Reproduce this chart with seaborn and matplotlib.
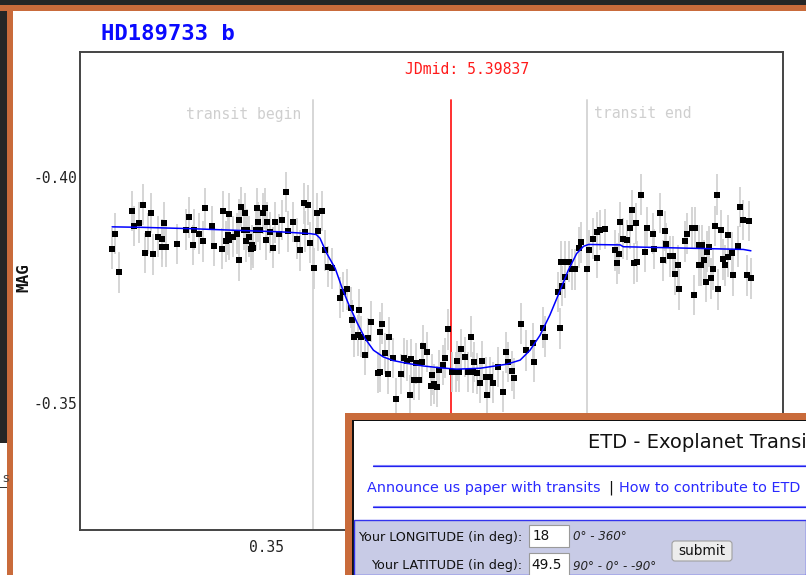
import numpy as np
import pandas as pd
import matplotlib
matplotlib.use("Agg")
import matplotlib.pyplot as plt
from matplotlib.patches import Rectangle, FancyBboxPatch
from matplotlib.ticker import FixedLocator, FormatStrFormatter
import seaborn as sns

# ---------------- data ----------------
TITLE = "HD189733 b"
JD_MID = 0.39837
JD_MID_LABEL = "JDmid: 5.39837"
T_BEGIN = 0.3623
T_END = 0.4340
ERR = 0.0045
X_TICKS = [0.35, 0.40, 0.45]
Y_TICKS = [-0.40, -0.35]

OBS_TIME = [0.3098, 0.3105, 0.3116, 0.3150, 0.3155, 0.3168, 0.3179, 0.3184, 0.3192, 0.3199,
            0.3203, 0.3218, 0.3227, 0.3227, 0.3234, 0.3238, 0.3266, 0.3290, 0.3297, 0.3308,
            0.3312, 0.3324, 0.3336, 0.3340, 0.3359, 0.3363, 0.3384, 0.3387, 0.3395, 0.3400,
            0.3403, 0.3404, 0.3414, 0.3423, 0.3430, 0.3430, 0.3435, 0.3441, 0.3445, 0.3448,
            0.3451, 0.3455, 0.3460, 0.3464, 0.3467, 0.3473, 0.3476, 0.3480, 0.3484, 0.3491,
            0.3497, 0.3500, 0.3503, 0.3510, 0.3519, 0.3524, 0.3535, 0.3542, 0.3551, 0.3558,
            0.3571, 0.3580, 0.3589, 0.3598, 0.3603, 0.3611, 0.3615, 0.3626, 0.3633, 0.3635,
            0.3646, 0.3654, 0.3663, 0.3672, 0.3694, 0.3702, 0.3711, 0.3722, 0.3726, 0.3730,
            0.3740, 0.3743, 0.3749, 0.3759, 0.3768, 0.3774, 0.3794, 0.3797, 0.3798, 0.3803,
            0.3810, 0.3818, 0.3821, 0.3833, 0.3841, 0.3853, 0.3861, 0.3868, 0.3876, 0.3880,
            0.3887, 0.3893, 0.3900, 0.3907, 0.3912, 0.3921, 0.3931, 0.3934, 0.3940, 0.3947,
            0.3952, 0.3963, 0.3968, 0.3976, 0.3986, 0.3996, 0.4001, 0.4006, 0.4011, 0.4021,
            0.4028, 0.4037, 0.4041, 0.4045, 0.4052, 0.4060, 0.4065, 0.4076, 0.4079, 0.4086,
            0.4095, 0.4108, 0.4120, 0.4127, 0.4134, 0.4143, 0.4150, 0.4167, 0.4181, 0.4198,
            0.4202, 0.4226, 0.4230, 0.4264, 0.4270, 0.4273, 0.4274, 0.4283, 0.4283, 0.4294,
            0.4300, 0.4309, 0.4318, 0.4325, 0.4340, 0.4346, 0.4357, 0.4366, 0.4366, 0.4374,
            0.4387, 0.4414, 0.4418, 0.4425, 0.4427, 0.4435, 0.4444, 0.4453, 0.4459, 0.4463,
            0.4469, 0.4472, 0.4481, 0.4492, 0.4497, 0.4512, 0.4516, 0.4531, 0.4538, 0.4545,
            0.4547, 0.4558, 0.4565, 0.4571, 0.4578, 0.4582, 0.4597, 0.4601, 0.4614, 0.4620,
            0.4623, 0.4632, 0.4632, 0.4638, 0.4641, 0.4647, 0.4652, 0.4654, 0.4660, 0.4665,
            0.4671, 0.4675, 0.4680, 0.4684, 0.4690, 0.4696, 0.4702, 0.4708, 0.4710, 0.4719,
            0.4723, 0.4734, 0.4741, 0.4749, 0.4758, 0.4765, 0.4769]

OBS_MAG = [-0.3842, -0.3875, -0.3789, -0.3925, -0.3892, -0.3899, -0.3939, -0.3832, -0.3875, -0.3921,
           -0.3829, -0.3868, -0.3863, -0.3846, -0.3899, -0.3846, -0.3852, -0.3884, -0.3911, -0.3850,
           -0.3884, -0.3875, -0.3858, -0.3931, -0.3892, -0.3848, -0.3842, -0.3925, -0.3858, -0.3872,
           -0.3919, -0.3861, -0.3868, -0.3875, -0.3816, -0.3906, -0.3934, -0.3884, -0.3921, -0.3858,
           -0.3884, -0.3868, -0.3840, -0.3850, -0.3844, -0.3884, -0.3931, -0.3901, -0.3884, -0.3920,
           -0.3931, -0.3861, -0.3901, -0.3878, -0.3844, -0.3900, -0.3874, -0.3905, -0.3967, -0.3880,
           -0.3901, -0.3864, -0.3838, -0.3942, -0.3879, -0.3938, -0.3855, -0.3798, -0.3920, -0.3881,
           -0.3925, -0.3838, -0.3802, -0.3798, -0.3733, -0.3746, -0.3752, -0.3711, -0.3684, -0.3647,
           -0.3650, -0.3707, -0.3647, -0.3606, -0.3644, -0.3680, -0.3567, -0.3657, -0.3569, -0.3676,
           -0.3610, -0.3564, -0.3646, -0.3600, -0.3510, -0.3564, -0.3600, -0.3594, -0.3518, -0.3597,
           -0.3551, -0.3588, -0.3551, -0.3590, -0.3627, -0.3613, -0.3538, -0.3563, -0.3542, -0.3536,
           -0.3573, -0.3584, -0.3600, -0.3663, -0.3569, -0.3569, -0.3593, -0.3569, -0.3619, -0.3602,
           -0.3569, -0.3647, -0.3568, -0.3591, -0.3566, -0.3545, -0.3593, -0.3557, -0.3518, -0.3557,
           -0.3545, -0.3580, -0.3525, -0.3612, -0.3591, -0.3571, -0.3555, -0.3676, -0.3617, -0.3633,
           -0.3591, -0.3667, -0.3647, -0.3746, -0.3665, -0.3813, -0.3759, -0.3778, -0.3813, -0.3813,
           -0.3796, -0.3796, -0.3844, -0.3856, -0.3796, -0.3838, -0.3864, -0.3878, -0.3822, -0.3883,
           -0.3885, -0.3838, -0.3809, -0.3831, -0.3901, -0.3864, -0.3861, -0.3887, -0.3927, -0.3809,
           -0.3898, -0.3813, -0.3961, -0.3835, -0.3888, -0.3875, -0.3841, -0.3921, -0.3816, -0.3881,
           -0.3853, -0.3825, -0.3825, -0.3785, -0.3805, -0.3752, -0.3858, -0.3875, -0.3888, -0.3739,
           -0.3888, -0.3805, -0.3850, -0.3805, -0.3850, -0.3816, -0.3768, -0.3835, -0.3846, -0.3776,
           -0.3796, -0.3892, -0.3961, -0.3752, -0.3883, -0.3818, -0.3805, -0.3871, -0.3824, -0.3833,
           -0.3783, -0.3847, -0.3934, -0.3905, -0.3783, -0.3903, -0.3776]

MODEL_TIME = [0.3097, 0.3170, 0.3301, 0.3432, 0.3537, 0.3615, 0.3631, 0.3641, 0.3659, 0.3681,
              0.3698, 0.3715, 0.3737, 0.3759, 0.3781, 0.3807, 0.3833, 0.3868, 0.3912, 0.3955,
              0.3999, 0.4060, 0.4130, 0.4165, 0.4191, 0.4217, 0.4243, 0.4270, 0.4291, 0.4313,
              0.4331, 0.4344, 0.4427, 0.4435, 0.4540, 0.4645, 0.4749, 0.4769]
MODEL_MAG = [-0.3890, -0.3889, -0.3886, -0.3882, -0.3879, -0.3875, -0.3873, -0.3865, -0.3831, -0.3798,
             -0.3757, -0.3721, -0.3680, -0.3643, -0.3617, -0.3602, -0.3594, -0.3588, -0.3582, -0.3578,
             -0.3575, -0.3577, -0.3586, -0.3595, -0.3617, -0.3650, -0.3695, -0.3750, -0.3794, -0.3831,
             -0.3847, -0.3851, -0.3850, -0.3846, -0.3844, -0.3842, -0.3840, -0.3837]

# ---------------- style ----------------
sns.set_style("white")
plt.rcParams["font.family"] = ["DejaVu Sans Mono", "DejaVu Sans"]

W, H = 806, 575
fig = plt.figure(figsize=(W / 100, H / 100), dpi=100, facecolor="white")
ax = fig.add_axes([80 / W, 1 - 530 / H, 703 / W, 478 / H])
ax.set_facecolor("white")

obs = pd.DataFrame({"time": OBS_TIME, "mag": OBS_MAG})
obs["lo"] = obs["mag"] - ERR
obs["hi"] = obs["mag"] + ERR
model = pd.DataFrame({"time": MODEL_TIME, "mag": MODEL_MAG})

# transit markers
top = (530 - 100) / 478
ax.axvline(T_BEGIN, ymin=0, ymax=top, color="#d6d6d6", lw=1.4, zorder=1)
ax.axvline(T_END, ymin=0, ymax=top, color="#d6d6d6", lw=1.4, zorder=1)
ax.axvline(JD_MID, ymin=0, ymax=top, color="#ff2020", lw=1.3, zorder=1)

# error bars + points + model
ax.vlines(obs["time"], obs["lo"], obs["hi"], color="#d2d2d2", lw=1.3, zorder=2)
sns.scatterplot(data=obs, x="time", y="mag", marker="s", s=15, color="black",
                linewidth=0, ax=ax, zorder=3, legend=False)
sns.lineplot(data=model, x="time", y="mag", color="#0000ff", lw=1.1, sort=False,
             estimator=None, ax=ax, zorder=4, legend=False)

ax.set_xlim(0.3013, 0.4853)
ax.set_ylim(-0.3219, -0.4277)

ax.xaxis.set_major_locator(FixedLocator(X_TICKS))
ax.yaxis.set_major_locator(FixedLocator(Y_TICKS))
ax.xaxis.set_major_formatter(FormatStrFormatter("%.2f"))
ax.yaxis.set_major_formatter(FormatStrFormatter("%.2f"))
ax.tick_params(direction="in", length=6, width=1.3, color="#333333",
               labelsize=10.5, labelcolor="#222222")
ax.tick_params(axis="y", pad=2)
ax.tick_params(axis="x", pad=7)
for s in ax.spines.values():
    s.set_color("#444444")
    s.set_linewidth(1.4)

ax.set_xlabel("")
ax.set_ylabel("MAG", fontsize=11.5, fontweight="bold", color="#111111")
ax.yaxis.set_label_coords(-0.069, 0.529)

ax.text(0.030, 1.0377, TITLE, transform=ax.transAxes, fontsize=16, fontweight="bold",
        color="#0a0aff", va="center", ha="left")
ax.text((405 - 80) / 703, (530 - 70) / 478, JD_MID_LABEL, transform=ax.transAxes,
        fontsize=10.6, color="#ff1a1a", va="center", ha="left")
ax.text((301 - 80) / 703, (530 - 114) / 478, "transit begin", transform=ax.transAxes,
        fontsize=10.6, color="#cfcfcf", va="center", ha="right")
ax.text((594 - 80) / 703, (530 - 114) / 478, "transit end", transform=ax.transAxes,
        fontsize=10.6, color="#cfcfcf", va="center", ha="left")

# ---------------- screenshot frame and overlay window ----------------
deco = fig.add_axes([0, 0, 1, 1], zorder=10)
deco.set_xlim(0, W)
deco.set_ylim(H, 0)
deco.axis("off")
ORANGE = "#c96b3b"
DARK = "#262626"

def rect(x, y, w, h, fc, ec="none", lw=0, z=1):
    deco.add_patch(Rectangle((x, y), w, h, facecolor=fc, edgecolor=ec, lw=lw, zorder=z))

rect(0, 0, W, 5, DARK)
rect(0, 0, 7, 443, DARK)
rect(0, 5, W, 6, ORANGE)
rect(7, 5, 5.5, H, ORANGE)
rect(0, 486.5, 7, 1, "#333333")
deco.text(2, 478, "s", fontsize=9, color="#444444", family="DejaVu Sans",
          va="center", ha="left", clip_on=True)

# overlay window
rect(345, 413, W - 345, H - 413, ORANGE, z=2)
rect(352, 419.5, W - 352, H - 419.5, "#111111", z=3)
rect(353.5, 421, W - 353.5, H - 421, "white", z=4)
deco.text(588, 443, "ETD - Exoplanet Transit", fontsize=14, color="#111111",
          family="DejaVu Sans", va="center", ha="left", zorder=5, clip_on=True)
for yy in (465.5, 506.5):
    deco.plot([373, W], [yy - 1, yy - 1], color="#8a8aff", lw=0.8, zorder=5)
    deco.plot([373, W], [yy + 0.8, yy + 0.8], color="#2222ee", lw=0.9, zorder=5)
deco.text(367, 488, "Announce us paper with transits", fontsize=10.4, color="#2a2aff",
          family="DejaVu Sans", va="center", ha="left", zorder=5)
deco.text(608, 488, "|", fontsize=10.4, color="#111111", family="DejaVu Sans",
          va="center", ha="left", zorder=5)
deco.text(619, 488, "How to contribute to ETD", fontsize=10.4, color="#2a2aff",
          family="DejaVu Sans", va="center", ha="left", zorder=5)

# form panel
rect(354, 520, W - 354, H - 520, "#c8cbe6", ec="#3333ee", lw=1.0, z=5)
deco.text(358, 537, "Your LONGITUDE (in deg):", fontsize=9.2, color="#111111",
          family="DejaVu Sans", va="center", ha="left", zorder=6)
deco.text(371, 565, "Your LATITUDE (in deg):", fontsize=9.2, color="#111111",
          family="DejaVu Sans", va="center", ha="left", zorder=6)
rect(529, 525, 40, 22, "white", ec="#9a9a9a", lw=0.8, z=6)
rect(529, 553, 40, 30, "white", ec="#9a9a9a", lw=0.8, z=6)
deco.text(533, 536.5, "18", fontsize=9.8, color="#111111", family="DejaVu Sans",
          va="center", ha="left", zorder=7)
deco.text(531, 565, "49.5", fontsize=9.8, color="#111111", family="DejaVu Sans",
          va="center", ha="left", zorder=7)
deco.text(573, 537, "0° - 360°", fontsize=8.6, color="#222222", family="DejaVu Sans",
          style="italic", va="center", ha="left", zorder=6)
deco.text(573, 566, "90° - 0° - -90°", fontsize=8.6, color="#222222", family="DejaVu Sans",
          style="italic", va="center", ha="left", zorder=6)
deco.add_patch(FancyBboxPatch((672, 541), 60, 20, boxstyle="round,pad=0,rounding_size=3",
                              facecolor="#ececec", edgecolor="#a0a0a0", lw=0.8, zorder=6))
deco.text(702, 551, "submit", fontsize=9.8, color="#111111", family="DejaVu Sans",
          va="center", ha="center", zorder=7)

fig.savefig("out.png", dpi=100, facecolor="white")
